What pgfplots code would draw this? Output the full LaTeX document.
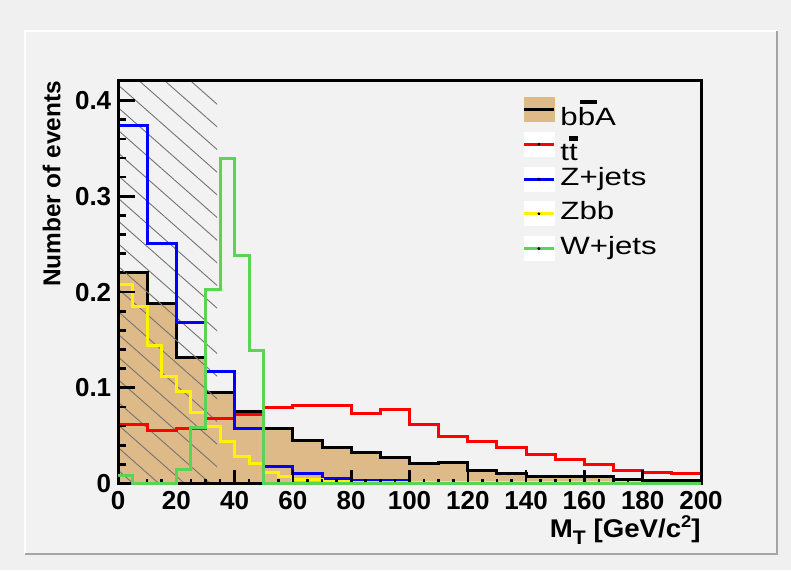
\documentclass[border=0pt]{standalone}
\usepackage{fontspec}
\setmainfont{Liberation Sans}
\usepackage{graphicx}
\usepackage{pgfplots}
\pgfplotsset{compat=1.18}
\usetikzlibrary{patterns.meta}

\definecolor{bgout}{RGB}{240,240,240}
\definecolor{bgpad}{RGB}{242,242,242}
\definecolor{padedge}{RGB}{165,165,165}
\definecolor{bbafill}{RGB}{222,186,136}
\definecolor{wgreen}{RGB}{89,212,84}

% thick ROOT-like bar over a letter: #1 letter, #2 offset, #3 bar width
\newcommand{\topbar}[3]{{\setbox0\hbox{#1}\vbox{\offinterlineskip\hbox to\wd0{\kern#2\rule{#3}{2.2pt}\hss}\kern1.7pt\box0}}}
\newcommand{\wide}[1]{\scalebox{1.25}[1]{#1}}

\begin{document}
\begin{tikzpicture}
\fill[bgout] (0pt,0pt) rectangle (395.5pt,285pt);
\fill[bgpad] (12.5pt,8pt) rectangle (388.3pt,269.65pt);
\draw[white, line width=1pt] (12.5pt,8pt) -- (12.5pt,269.65pt) -- (388.3pt,269.65pt);
\draw[padedge, line width=1pt] (12.5pt,8pt) -- (388.3pt,8pt) -- (388.3pt,269.65pt);

\begin{axis}[
    scale only axis,
    width=291.5pt, height=201.5pt,
    at={(59pt,43.25pt)}, anchor=south west,
    xmin=0, xmax=200, ymin=0, ymax=0.421,
    xtick={0,20,...,200}, ytick={0,0.1,0.2,0.3,0.4},
    minor x tick num=3, minor y tick num=4,
    tick align=inside, tick pos=left,
    axis line style={line width=1.5pt},
    every tick/.style={black, line width=1.3pt},
    xtick style={/pgfplots/major tick length=6.7pt, /pgfplots/minor tick length=2.5pt},
    ytick style={/pgfplots/major tick length=8.3pt, /pgfplots/minor tick length=4.2pt},
    set layers, axis on top,
    scaled y ticks=false,
    /pgf/number format/assume math mode=true,
    ticklabel style={font=\bfseries\fontsize{13}{15}\selectfont},
    yticklabel style={/pgf/number format/fixed, /pgf/number format/precision=1, inner sep=0pt, xshift=-3.2pt},
    xticklabel style={inner sep=0pt, yshift=-3.5pt},
    xlabel={\scalebox{1.08}[1]{M\raisebox{-3.3pt}{\fontsize{9.8}{10}\selectfont T} [GeV/c\raisebox{0.75ex}{\fontsize{8.5}{9}\selectfont 2}]}},
    xlabel style={at={(axis description cs:1,0)}, anchor=base east, yshift=-27pt, inner sep=0pt, font=\bfseries\fontsize{12.8}{14}\selectfont},
    ylabel={Number of events},
    ylabel style={at={(axis description cs:-0.114,1)}, rotate=0, anchor=east, inner sep=0pt, font=\bfseries\fontsize{12.2}{14}\selectfont},
    legend style={at={(axis description cs:0.693,0.96)}, anchor=north west, draw=none, fill=none,
        inner sep=0pt, row sep=5pt, column sep=2.5pt, font=\fontsize{12.5}{14}\selectfont,
        nodes={inner sep=0pt, text height=9pt, text depth=3pt}},
    legend cell align=left,
]

% b bbar A signal (filled)
\addplot[const plot, fill=bbafill, draw=black, line width=1.5pt, forget plot] coordinates {
    (0,0.220) (10,0.188) (20,0.132) (30,0.0946) (40,0.0757) (50,0.0573) (60,0.0445)
    (70,0.038) (80,0.0325) (90,0.0272) (100,0.021) (110,0.0223) (120,0.0136)
    (130,0.0101) (140,0.0076) (150,0.0076) (160,0.0076) (170,0.0039) (180,0.003)
    (190,0.003) (200,0.003)
} \closedcycle;

% hatched cut region
\addplot[draw=none, pattern={Lines[angle=-41.4, distance=8.5pt, line width=0.45pt]},
    pattern color=black!55, forget plot] coordinates {
    (0,0) (0,0.421) (34,0.421) (34,0)
} \closedcycle;

% t tbar
\addplot[const plot, red, line width=1.5pt, forget plot] coordinates {
    (0,0.0618) (10,0.0555) (20,0.0573) (30,0.0677) (40,0.0719) (50,0.0799) (60,0.082)
    (70,0.082) (80,0.073) (90,0.0772) (100,0.0618) (110,0.0492) (120,0.044)
    (130,0.038) (140,0.0304) (150,0.0251) (160,0.0199) (170,0.0136) (180,0.0118)
    (190,0.0101) (200,0.0101)
};

% Z+jets
\addplot[const plot, blue, line width=1.5pt, forget plot] coordinates {
    (0,0.374) (10,0.251) (20,0.168) (30,0.117) (40,0.0573) (50,0.018) (60,0.0102)
    (70,0.0049) (80,0.003) (90,0.003) (100,0.001) (110,0.001) (120,0.001)
    (130,0.0005) (140,0.0005) (150,0.0005) (160,0.0005) (170,0) (180,0) (190,0) (200,0)
};

% Zbb
\addplot[const plot, yellow, line width=1.5pt, forget plot] coordinates {
    (0,0.208) (5,0.185) (10,0.1445) (15,0.112) (20,0.096) (25,0.074) (30,0.0597)
    (35,0.0437) (40,0.0285) (45,0.0206) (50,0.0115) (55,0.0073) (60,0.004) (65,0.004)
    (70,0.0024) (75,0.0024) (80,0.001) (180,0) (200,0)
};

% W+jets
\addplot[const plot, wgreen, line width=1.5pt, forget plot, on layer=axis foreground] coordinates {
    (0,0.0084) (5,0) (20,0.0147) (25,0.059) (30,0.203) (35,0.340) (40,0.2387)
    (45,0.1386) (50,0) (200,0)
};

\addlegendimage{legend image code/.code={
    \fill[bbafill] (0pt,-6pt) rectangle (15pt,6pt);
    \draw[black, line width=1.5pt] (0pt,0pt) -- (15pt,0pt);}}
\addlegendentry{\raisebox{-5pt}{\wide{b\topbar{b}{1pt}{6.5pt}A}}}
\addlegendimage{legend image code/.code={
    \fill[white] (0pt,-6pt) rectangle (15pt,6pt);
    \draw[red, line width=1.5pt] (0pt,0pt) -- (15pt,0pt);
    \fill[black] (7.5pt,0pt) circle (0.5pt);}}
\addlegendentry{\raisebox{-5pt}{\wide{t\topbar{t}{0pt}{3.4pt}}}}
\addlegendimage{legend image code/.code={
    \fill[white] (0pt,-6pt) rectangle (15pt,6pt);
    \draw[blue, line width=1.5pt] (0pt,0pt) -- (15pt,0pt);
    \fill[black] (7.5pt,0pt) circle (0.5pt);}}
\addlegendentry{\wide{Z+jets}}
\addlegendimage{legend image code/.code={
    \fill[white] (0pt,-6pt) rectangle (15pt,6pt);
    \draw[yellow, line width=1.5pt] (0pt,0pt) -- (15pt,0pt);
    \fill[black] (7.5pt,0pt) circle (0.5pt);}}
\addlegendentry{\wide{Zbb}}
\addlegendimage{legend image code/.code={
    \fill[white] (0pt,-6pt) rectangle (15pt,6pt);
    \draw[wgreen, line width=1.5pt] (0pt,0pt) -- (15pt,0pt);
    \fill[black] (7.5pt,0pt) circle (0.5pt);}}
\addlegendentry{\wide{W+jets}}
\end{axis}
\end{tikzpicture}
\end{document}
